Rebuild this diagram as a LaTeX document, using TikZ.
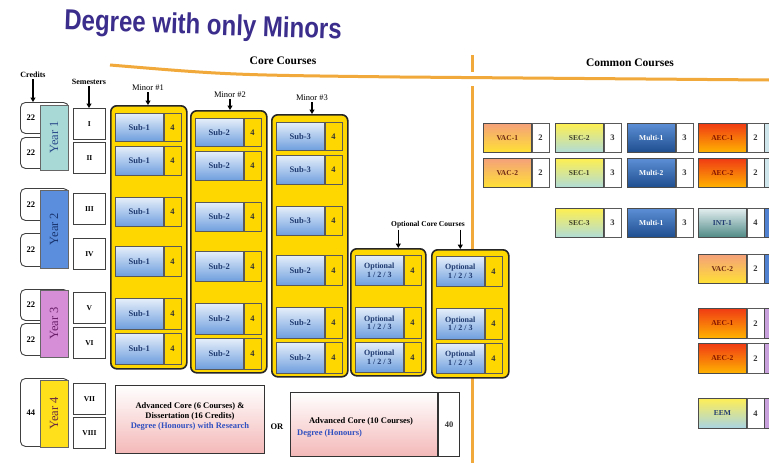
\documentclass[tikz,border=0pt]{standalone}
\usepackage{fontspec}
\setmainfont{Liberation Serif}
\newfontfamily\titlefont{Liberation Sans}
\usetikzlibrary{arrows.meta}
\definecolor{titlecol}{HTML}{3B2D8C}
\definecolor{orangeline}{HTML}{F2A93B}
\definecolor{gold}{HTML}{FFD700}
\definecolor{navy}{HTML}{1F3A70}
\definecolor{subtop}{HTML}{E6EFFA}
\definecolor{subbot}{HTML}{6E9EDE}
\definecolor{degblue}{HTML}{3050C0}
\definecolor{pinkb}{HTML}{F4B8B8}
\definecolor{yrA}{HTML}{A9D9D6}
\definecolor{yrB}{HTML}{5B8FDD}
\definecolor{yrC}{HTML}{D68FD6}
\definecolor{yrD}{HTML}{FFE01A}
\newcommand\pcell[8]{%
  \node[#5, minimum width=48pt, minimum height=#4pt, anchor=north west] (#1) at (#2,#3) {#6};
  \node[#7, minimum height=#4pt, anchor=north west] (#1n) at (#1.north east) {#8};}
\begin{document}
\begin{tikzpicture}[x=1pt,y=-1pt,
  lbl/.style={font=\bfseries\fontsize{8}{9}\selectfont, inner sep=1pt},
  mlbl/.style={font=\fontsize{8.5}{9}\selectfont, inner sep=1pt},
  head/.style={font=\bfseries\fontsize{11.5}{13}\selectfont, inner sep=1pt},
  arr/.style={-{Triangle[length=4.5pt,width=5pt]}, line width=1.3pt},
  credbox/.style={draw=black!75, line width=0.9pt, rounded corners=5pt, fill=white, minimum width=48pt, anchor=north west},
  credtxt/.style={font=\bfseries\fontsize{8.5}{9}\selectfont, inner sep=0pt},
  yearcol/.style={draw=black!60, line width=0.6pt, rotate=90, minimum height=28pt, font=\fontsize{12.5}{14}\selectfont},
  semb/.style={draw=black!75, line width=0.9pt, fill=white, minimum width=32pt, minimum height=31pt, anchor=north west, font=\bfseries\fontsize{7.5}{8}\selectfont},
  colbox/.style={draw=black!85, line width=1.6pt, rounded corners=6pt, fill=gold, minimum width=76pt, anchor=north west},
  subcell/.style={draw=black!65, line width=0.6pt, top color=subtop, bottom color=subbot, text=navy, font=\bfseries\fontsize{8.5}{9}\selectfont, inner sep=0pt},
  optcell/.style={subcell, align=center, font=\bfseries\fontsize{8}{8.5}\selectfont},
  numy/.style={draw=black!65, line width=0.6pt, fill=gold, minimum width=17pt, font=\bfseries\fontsize{8.5}{9}\selectfont, text=black!80, inner sep=0pt},
  numw/.style={numy, fill=white},
  cc/.style={draw=black!70, line width=0.6pt, font=\bfseries\fontsize{7.5}{8}\selectfont, inner sep=0pt},
  vacst/.style={cc, top color={rgb,255:red,244;green,160;blue,122}, bottom color={rgb,255:red,255;green,225;blue,53}, text={rgb,255:red,110;green,40;blue,20}},
  secst/.style={cc, top color={rgb,255:red,255;green,240;blue,80}, bottom color={rgb,255:red,176;green,220;blue,216}, text={rgb,255:red,60;green,60;blue,40}},
  multist/.style={cc, top color={rgb,255:red,92;green,143;blue,214}, bottom color={rgb,255:red,31;green,78;blue,143}, text=white},
  aecst/.style={cc, top color={rgb,255:red,240;green,58;blue,20}, bottom color={rgb,255:red,255;green,179;blue,0}, text={rgb,255:red,130;green,20;blue,0}},
  intst/.style={cc, top color={rgb,255:red,228;green,238;blue,240}, bottom color={rgb,255:red,79;green,138;blue,134}, text=navy},
  eemst/.style={cc, top color={rgb,255:red,255;green,238;blue,85}, bottom color={rgb,255:red,168;green,212;blue,228}, text=navy},
  sliv/.style={draw=black!70, line width=0.6pt, minimum width=30pt, anchor=north west},
  advbox/.style={draw=black!80, line width=1pt, top color=white, bottom color=pinkb, anchor=north west}
]
\useasboundingbox (0,0) rectangle (769,463);
\clip (0,0) rectangle (769,463);
\fill[white] (0,0) rectangle (769,463);

% title
\node[font=\titlefont\bfseries\fontsize{24}{28}\selectfont, text=titlecol, rotate=-2] (title) at (203,27) {\scalebox{1}[1.2]{Degree with only Minors}};

% orange lines
\draw[orangeline, line width=3pt] (110,65) .. controls (230,75) .. (400,77) -- (769,80);
\draw[orangeline, line width=3pt] (472,55) -- (472,72);
\draw[orangeline, line width=3pt] (472,86) -- (472,463);

\node[head] (lcore) at (283,61) {Core Courses};
\node[head] (lcommon) at (630,63) {Common Courses};

% credits and years
\node[credbox, minimum height=31pt] (cr1) at (20,102) {};
\node[credbox, minimum height=31pt] (cr2) at (20,137) {};
\node[credbox, minimum height=32pt] (cr3) at (20,188) {};
\node[credbox, minimum height=33pt] (cr4) at (20,233) {};
\node[credbox, minimum height=31pt] (cr5) at (20,289) {};
\node[credbox, minimum height=32pt] (cr6) at (20,323) {};
\node[credbox, minimum height=68pt] (cr7) at (20,378) {};
\node[credtxt] (cr1t) at (cr1.center -| 31,0) {22};
\node[credtxt] (cr2t) at (cr2.center -| 31,0) {22};
\node[credtxt] (cr3t) at (cr3.center -| 31,0) {22};
\node[credtxt] (cr4t) at (cr4.center -| 31,0) {22};
\node[credtxt] (cr5t) at (cr5.center -| 31,0) {22};
\node[credtxt] (cr6t) at (cr6.center -| 31,0) {22};
\node[credtxt] (cr7t) at (cr7.center -| 31,0) {44};

\node[yearcol, fill=yrA, text={rgb,255:red,43;green,76;blue,140}, minimum width=65pt] (yr1) at (54,137.5) {Year 1};
\node[yearcol, fill=yrB, text={rgb,255:red,26;green,53;blue,112}, minimum width=78pt] (yr2) at (54,229) {Year 2};
\node[yearcol, fill=yrC, text={rgb,255:red,106;green,30;blue,106}, minimum width=67pt] (yr3) at (54,323.5) {Year 3};
\node[yearcol, fill=yrD, text={rgb,255:red,106;green,42;blue,64}, minimum width=67pt] (yr4) at (54,413.5) {Year 4};

% semesters
\node[semb] (sI) at (73,108) {I};
\node[semb] (sII) at (73,142) {II};
\node[semb] (sIII) at (73,193) {III};
\node[semb] (sIV) at (73,238) {IV};
\node[semb] (sV) at (73,292) {V};
\node[semb] (sVI) at (73,327) {VI};
\node[semb] (sVII) at (73,383) {VII};
\node[semb] (sVIII) at (73,417) {VIII};

% labels and arrows
\node[lbl] (lcred) at (33,75) {Credits};
\node[lbl] (lsem) at (89,82) {Semesters};
\node[mlbl] (lm1) at (148,88) {Minor \#1};
\node[mlbl] (lm2) at (230,95) {Minor \#2};
\node[mlbl] (lm3) at (312,98) {Minor \#3};
\draw[arr] (lcred.south) -- (lcred.south |- cr1.north);
\draw[arr] (lsem.south) -- (lsem.south |- sI.north);

% minor columns
\node[colbox, minimum height=263pt] (minor1) at (110,105) {};
\node[colbox, minimum height=262pt] (minor2) at (190,110) {};
\node[colbox, minimum height=262pt] (minor3) at (271,114) {};
\draw[arr] (lm1.south) -- (lm1.south |- minor1.north);
\draw[arr] (lm2.south) -- (lm2.south |- minor2.north);
\draw[arr] (lm3.south) -- (lm3.south |- minor3.north);

\pcell{a1}{115}{113}{28}{subcell}{Sub-1}{numy}{4}
\pcell{a2}{115}{146}{29}{subcell}{Sub-1}{numy}{4}
\pcell{a3}{115}{197}{29}{subcell}{Sub-1}{numy}{4}
\pcell{a4}{115}{246}{30}{subcell}{Sub-1}{numy}{4}
\pcell{a5}{115}{298}{31}{subcell}{Sub-1}{numy}{4}
\pcell{a6}{115}{333}{31}{subcell}{Sub-1}{numy}{4}

\pcell{b1}{195}{118}{28}{subcell}{Sub-2}{numy}{4}
\pcell{b2}{195}{151}{29}{subcell}{Sub-2}{numy}{4}
\pcell{b3}{195}{202}{29}{subcell}{Sub-2}{numy}{4}
\pcell{b4}{195}{251}{30}{subcell}{Sub-2}{numy}{4}
\pcell{b5}{195}{303}{31}{subcell}{Sub-2}{numy}{4}
\pcell{b6}{195}{338}{31}{subcell}{Sub-2}{numy}{4}

\pcell{c1}{276}{122}{28}{subcell}{Sub-3}{numy}{4}
\pcell{c2}{276}{155}{29}{subcell}{Sub-3}{numy}{4}
\pcell{c3}{276}{206}{29}{subcell}{Sub-3}{numy}{4}
\pcell{c4}{276}{255}{30}{subcell}{Sub-2}{numy}{4}
\pcell{c5}{276}{307}{31}{subcell}{Sub-2}{numy}{4}
\pcell{c6}{276}{342}{31}{subcell}{Sub-2}{numy}{4}

% optional core
\node[colbox, minimum width=75pt, minimum height=127pt] (opt1) at (350,248) {};
\node[colbox, minimum width=77pt, minimum height=128pt] (opt2) at (431,249) {};
\node[lbl, font=\bfseries\fontsize{7.5}{9}\selectfont] (lopt) at (428,225) {Optional Core Courses};
\coordinate (oa1) at ([xshift=10pt]opt1.north);
\coordinate (oa2) at ([xshift=-10pt]opt2.north);
\draw[arr] (oa1 |- lopt.south) -- (oa1);
\draw[arr] (oa2 |- lopt.south) -- (oa2);

\pcell{o1}{355}{255}{30}{optcell}{Optional\\1 / 2 / 3}{numy}{4}
\pcell{o2}{355}{307}{31}{optcell}{Optional\\1 / 2 / 3}{numy}{4}
\pcell{o3}{355}{342}{30}{optcell}{Optional\\1 / 2 / 3}{numy}{4}
\pcell{p1}{436}{256}{30}{optcell}{Optional\\1 / 2 / 3}{numy}{4}
\pcell{p2}{436}{308}{31}{optcell}{Optional\\1 / 2 / 3}{numy}{4}
\pcell{p3}{436}{343}{30}{optcell}{Optional\\1 / 2 / 3}{numy}{4}

% year 4 advanced
\node[advbox, minimum width=149pt, minimum height=68pt] (adv1) at (115,385) {};
\node[font=\bfseries\fontsize{8.5}{9.8}\selectfont, align=center, inner sep=0pt] (adv1t) at ([yshift=3pt]adv1.center) {Advanced Core (6 Courses) \&\\Dissertation (16 Credits)\\\textcolor{degblue}{Degree (Honours) with Research}};
\node[font=\bfseries\fontsize{8.5}{9}\selectfont] (lor) at (277,427) {OR};
\node[advbox, minimum width=147pt, minimum height=64pt] (adv2) at (290,392) {};
\node[numw, minimum width=21pt, minimum height=64pt, anchor=north west, line width=1pt, draw=black!80] (adv2n) at (adv2.north east) {40};
\node[font=\bfseries\fontsize{8.5}{9}\selectfont, inner sep=0pt] (adv2a) at (361,421) {Advanced Core (10 Courses)};
\node[font=\bfseries\fontsize{8.5}{9}\selectfont, inner sep=0pt, anchor=west, text=degblue] (adv2b) at (297,433) {Degree (Honours)};

% common courses
\pcell{vA}{483}{123}{29}{vacst}{VAC-1}{numw}{2}
\pcell{sA}{555}{123}{29}{secst}{SEC-2}{numw}{3}
\pcell{mA}{627}{123}{29}{multist}{Multi-1}{numw}{3}
\pcell{eA}{698}{123}{29}{aecst}{AEC-1}{numw}{2}
\node[sliv, fill={rgb,255:red,207;green,230;blue,236}, minimum height=29pt] (xA) at (eAn.north east) {};

\pcell{vB}{483}{158}{29}{vacst}{VAC-2}{numw}{2}
\pcell{sB}{555}{158}{29}{secst}{SEC-1}{numw}{3}
\pcell{mB}{627}{158}{29}{multist}{Multi-2}{numw}{3}
\pcell{eB}{698}{158}{29}{aecst}{AEC-2}{numw}{2}
\node[sliv, fill={rgb,255:red,207;green,230;blue,236}, minimum height=29pt] (xB) at (eBn.north east) {};

\pcell{sC}{555}{208}{29}{secst}{SEC-3}{numw}{3}
\pcell{mC}{627}{208}{29}{multist}{Multi-1}{numw}{3}
\pcell{eC}{698}{208}{29}{intst}{INT-1}{numw}{4}
\node[sliv, fill={rgb,255:red,80;green,128;blue,208}, minimum height=29pt] (xC) at (eCn.north east) {};

\pcell{eD}{698}{254}{29}{vacst}{VAC-2}{numw}{2}
\node[sliv, fill={rgb,255:red,80;green,128;blue,208}, minimum height=29pt] (xD) at (eDn.north east) {};

\pcell{eE}{698}{308}{30}{aecst}{AEC-1}{numw}{2}
\node[sliv, fill={rgb,255:red,200;green,160;blue,220}, minimum height=30pt] (xE) at (eEn.north east) {};

\pcell{eF}{698}{343}{30}{aecst}{AEC-2}{numw}{2}
\node[sliv, fill={rgb,255:red,200;green,160;blue,220}, minimum height=30pt] (xF) at (eFn.north east) {};

\pcell{eG}{698}{398}{30}{eemst}{EEM}{numw}{4}
\node[sliv, fill={rgb,255:red,200;green,160;blue,220}, minimum height=30pt] (xG) at (eGn.north east) {};
\end{tikzpicture}
\end{document}
